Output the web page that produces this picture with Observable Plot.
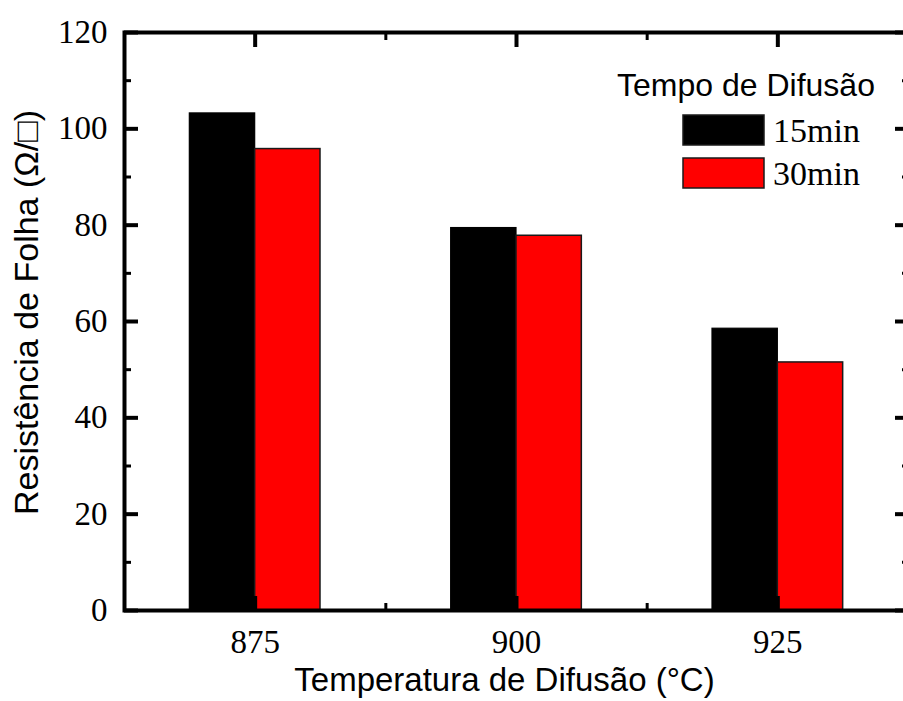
<!DOCTYPE html>
<html><head><meta charset="utf-8">
<script src="https://cdn.jsdelivr.net/npm/d3@7"></script>
<script src="https://cdn.jsdelivr.net/npm/@observablehq/plot@0.6"></script>
<style>
html,body{margin:0;padding:0;background:#fff;overflow:hidden}
#chart{position:relative;width:903px;height:701px;overflow:hidden}
</style>
</head><body><div id="chart"></div>
<script>
const temperatures = [875, 900, 925];
const seriesNames = ["15min", "30min"];
const resist15 = [103.2, 79.4, 58.5];
const resist30 = [95.8, 77.8, 51.5];
const yTicks = [0, 20, 40, 60, 80, 100, 120];
const yMinorTicks = [10, 30, 50, 70, 90, 110];
const xTicks = [875, 900, 925];
const xMinorTicks = [887.5, 912.5];
const seriesColors = ["#000000", "#ff0000"];
const legendTitle = "Tempo de Difusão";
const xTitle = "Temperatura de Difusão (°C)";
const yTitle = "Resistência de Folha (Ω/□)";

const half = 6.25; // bar width in °C units
const rows15 = temperatures.map((t, i) => ({temp: t, value: resist15[i]}));
const rows30 = temperatures.map((t, i) => ({temp: t, value: resist30[i]}));

const serif = "Liberation Serif, Times New Roman, serif";
const sans = "Liberation Sans, Arial, sans-serif";

const plot = Plot.plot({
  width: 903,
  height: 701,
  marginLeft: 124,
  marginRight: -5,
  marginTop: 32,
  marginBottom: 91,
  style: {fontFamily: serif, fontSize: "33px", background: "white", color: "black", overflow: "hidden"},
  x: {type: "linear", domain: [862.5, 937.5], label: null},
  y: {domain: [0, 120], label: null},
  marks: [
    Plot.rectY(rows15, {x1: d => d.temp - half, x2: d => d.temp, y: "value", fill: seriesColors[0], stroke: "#000", strokeWidth: 1.2}),
    Plot.rectY(rows30, {x1: d => d.temp, x2: d => d.temp + half, y: "value", fill: seriesColors[1], stroke: "#1a1a1a", strokeWidth: 1.5}),
    // major ticks (inward)
    Plot.axisY(yTicks, {anchor: "left", tickSize: -14, strokeWidth: 4, fill: "none", label: null}),
    Plot.axisY(yTicks, {anchor: "right", tickSize: -14, strokeWidth: 4, fill: "none", label: null}),
    Plot.axisY(yMinorTicks, {anchor: "left", tickSize: -7, strokeWidth: 3, fill: "none", label: null}),
    Plot.axisY(yMinorTicks, {anchor: "right", tickSize: -7, strokeWidth: 3, fill: "none", label: null}),
    Plot.axisX(xTicks, {anchor: "bottom", tickSize: -14, strokeWidth: 4, fill: "none", label: null}),
    Plot.axisX(xTicks, {anchor: "top", tickSize: -14, strokeWidth: 4, fill: "none", label: null}),
    Plot.axisX(xMinorTicks, {anchor: "bottom", tickSize: -7, strokeWidth: 3, fill: "none", label: null}),
    Plot.axisX(xMinorTicks, {anchor: "top", tickSize: -7, strokeWidth: 3, fill: "none", label: null}),
    // labels
    Plot.axisY(yTicks, {anchor: "left", tickSize: 0, tickPadding: 17, fontSize: 33, fontFamily: serif, label: null}),
    Plot.axisX(xTicks, {anchor: "bottom", tickSize: 0, tickPadding: 19, fontSize: 33, fontFamily: serif, label: null}),
    Plot.frame({stroke: "black", strokeWidth: 4}),
    // axis titles
    Plot.text([xTitle], {frameAnchor: "bottom", text: d => d, dx: -12, dy: 70, textAnchor: "middle", lineAnchor: "middle", fontSize: 33, fontFamily: sans, fill: "black"}),
    Plot.text([yTitle], {frameAnchor: "left", text: d => d, rotate: -90, dx: -97, dy: -9, textAnchor: "middle", lineAnchor: "middle", fontSize: 34, fontFamily: sans, fill: "black"})
  ]
});
document.getElementById("chart").appendChild(plot);

// legend (inside plot area, top right)
const svg = d3.select(plot);
const lg = svg.append("g").attr("class", "legend").attr("text-anchor", "start");
lg.append("text").attr("x", 617).attr("y", 96).attr("text-anchor", "start")
  .attr("font-family", sans).attr("font-size", 32).attr("fill", "black")
  .text(legendTitle);
seriesNames.forEach((name, i) => {
  const y0 = 115 + i * 43;
  lg.append("rect").attr("x", 683).attr("y", y0).attr("width", 81).attr("height", 30)
    .attr("fill", seriesColors[i]).attr("stroke", "#1a1a1a").attr("stroke-width", 1.5);
  lg.append("text").attr("x", 773).attr("y", y0 + 27).attr("text-anchor", "start")
    .attr("font-family", serif).attr("font-size", 34).attr("fill", "black")
    .text(name);
});
</script>
</body></html>
